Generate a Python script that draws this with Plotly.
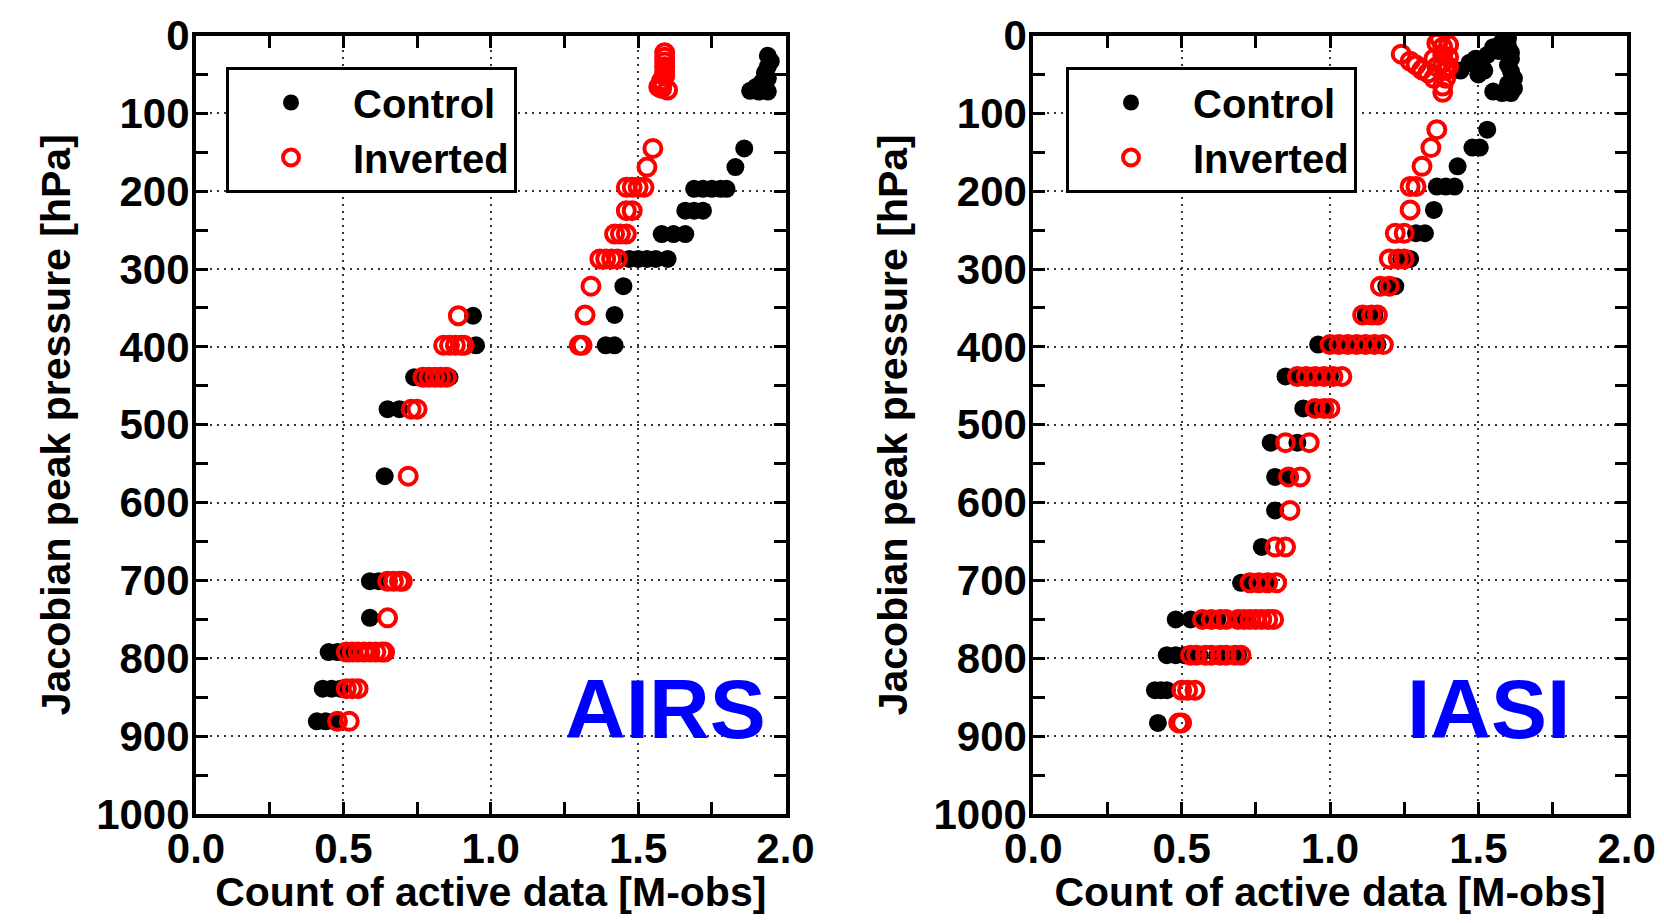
import plotly.graph_objects as go

# ---------------- data (M-obs, hPa) ----------------
airs_ctrl_count = [1.94, 1.95, 1.94, 1.93, 1.94, 1.92, 1.90, 1.88, 1.94, 1.91,
                   1.86, 1.83,
                   1.69, 1.72, 1.75, 1.78, 1.80,
                   1.66, 1.69, 1.72,
                   1.58, 1.62, 1.66,
                   1.47, 1.50, 1.53, 1.56, 1.60,
                   1.45, 1.42,
                   1.39, 1.42,
                   0.94, 0.95,
                   0.74, 0.78, 0.80, 0.83, 0.86,
                   0.65, 0.69,
                   0.64,
                   0.59, 0.62,
                   0.59,
                   0.45, 0.48, 0.50, 0.53,
                   0.43, 0.46, 0.49,
                   0.41, 0.44, 0.47]
airs_ctrl_pres = [26, 33, 40, 48, 55, 60, 66, 71, 72, 72,
                  145, 169,
                  197, 197, 197, 197, 197,
                  225, 225, 225,
                  255, 255, 255,
                  287, 287, 287, 287, 287,
                  322, 359,
                  398, 398,
                  360, 398,
                  439, 439, 439, 439, 439,
                  480, 480,
                  566,
                  701, 701,
                  748,
                  792, 792, 792, 792,
                  839, 839, 839,
                  881, 881, 881]

airs_inv_count = [1.59, 1.59, 1.59, 1.59, 1.59, 1.59, 1.58, 1.58, 1.58, 1.57, 1.60,
                  1.55, 1.53,
                  1.46, 1.48, 1.50, 1.52,
                  1.46, 1.48,
                  1.42, 1.44, 1.46,
                  1.37, 1.39, 1.41, 1.43,
                  1.34, 1.32,
                  1.30, 1.31,
                  0.89,
                  0.84, 0.86, 0.88, 0.90, 0.91,
                  0.77, 0.79, 0.81, 0.83, 0.85,
                  0.73, 0.75,
                  0.72,
                  0.65, 0.67, 0.69, 0.70,
                  0.65,
                  0.51, 0.53, 0.55, 0.57, 0.59, 0.61, 0.63, 0.64,
                  0.51, 0.53, 0.55,
                  0.48, 0.52]
airs_inv_pres = [22, 28, 34, 40, 46, 52, 58, 63, 68, 66, 70,
                 145, 169,
                 195, 195, 195, 195,
                 225, 225,
                 255, 255, 255,
                 287, 287, 287, 287,
                 322, 359,
                 398, 398,
                 360,
                 398, 398, 398, 398, 398,
                 439, 439, 439, 439, 439,
                 480, 480,
                 566,
                 701, 701, 701, 701,
                 748,
                 792, 792, 792, 792, 792, 792, 792, 792,
                 839, 839, 839,
                 881, 881]

iasi_ctrl_count = [1.44, 1.47, 1.49, 1.51, 1.53, 1.52, 1.55, 1.57, 1.58, 1.60, 1.60,
                   1.61, 1.61, 1.60, 1.61, 1.62, 1.60, 1.62, 1.55, 1.58, 1.61, 1.50,
                   1.53, 1.48, 1.505, 1.43,
                   1.36, 1.39, 1.42,
                   1.35,
                   1.29, 1.32,
                   1.24, 1.27,
                   1.19, 1.22,
                   1.12, 1.15,
                   0.96, 1.01, 1.06, 1.11, 1.16,
                   0.85, 0.90, 0.95, 1.00,
                   0.91, 0.95, 0.98,
                   0.80, 0.89,
                   0.815, 0.865,
                   0.815,
                   0.77,
                   0.70, 0.74, 0.79,
                   0.48, 0.53, 0.57, 0.62, 0.69, 0.72,
                   0.45, 0.48, 0.51, 0.56, 0.62, 0.69,
                   0.41, 0.43, 0.45,
                   0.42]
iasi_ctrl_pres = [45, 35, 30, 38, 25, 45, 15, 20, 8, 4, 14,
                  22, 30, 38, 46, 55, 62, 68, 72, 74, 74, 50,
                  121, 144, 144, 168,
                  194, 194, 194,
                  224,
                  254, 254,
                  287, 287,
                  322, 322,
                  359, 359,
                  397, 397, 397, 397, 397,
                  438, 438, 438, 438,
                  479, 479, 479,
                  523, 523,
                  567, 567,
                  610,
                  657,
                  703, 703, 703,
                  750, 750, 750, 750, 750, 750,
                  796, 796, 796, 796, 796, 796,
                  841, 841, 841,
                  883]

iasi_inv_count = [1.24, 1.27, 1.29, 1.31, 1.33, 1.35, 1.36, 1.37, 1.38, 1.38,
                  1.38, 1.39, 1.39, 1.38, 1.38, 1.40, 1.40, 1.40, 1.36, 1.35,
                  1.36, 1.34, 1.31,
                  1.27, 1.29,
                  1.27,
                  1.22, 1.25,
                  1.20, 1.23, 1.25,
                  1.17, 1.20,
                  1.11, 1.14, 1.16,
                  1.00, 1.03, 1.06, 1.09, 1.12, 1.15, 1.18,
                  0.89, 0.92, 0.95, 0.98, 1.01, 1.04,
                  0.95, 0.98, 1.00,
                  0.85, 0.93,
                  0.86, 0.90,
                  0.865,
                  0.815, 0.85,
                  0.73, 0.76, 0.79, 0.82,
                  0.57, 0.60, 0.63, 0.65, 0.69, 0.71, 0.73, 0.75, 0.77, 0.79, 0.81,
                  0.53, 0.55, 0.58, 0.60, 0.63, 0.65, 0.68, 0.70,
                  0.50, 0.52, 0.545,
                  0.49, 0.50]
iasi_inv_pres = [24, 33, 38, 44, 48, 30, 10, 4, 15, 25,
                 35, 45, 55, 65, 73, 12, 28, 40, 40, 55,
                 121, 144, 168,
                 194, 194,
                 224,
                 254, 254,
                 287, 287, 287,
                 322, 322,
                 359, 359, 359,
                 397, 397, 397, 397, 397, 397, 397,
                 438, 438, 438, 438, 438, 438,
                 479, 479, 479,
                 523, 523,
                 567, 567,
                 610,
                 657, 657,
                 703, 703, 703, 703,
                 750, 750, 750, 750, 750, 750, 750, 750, 750, 750, 750,
                 796, 796, 796, 796, 796, 796, 796, 796,
                 841, 841, 841,
                 883, 883]

series_names = ["Control", "Inverted"]
panel_labels = ["AIRS", "IASI"]
x_tickvals = [0.0, 0.5, 1.0, 1.5, 2.0]
x_ticktext = ["0.0", "0.5", "1.0", "1.5", "2.0"]
y_tickvals = [0, 100, 200, 300, 400, 500, 600, 700, 800, 900, 1000]
y_ticktext = ["0", "100", "200", "300", "400", "500", "600", "700", "800", "900", "1000"]
x_title = "Count of active data [M-obs]"
y_title = "Jacobian peak pressure [hPa]"

# ---------------- figure ----------------
FONT = "Liberation Sans, Arial, Helvetica, sans-serif"
OFF = 8                       # page body margin of the html page
W, H = 1664 - 2 * OFF, 923 - 2 * OFF

def px_x(p):                  # window pixel -> paper fraction
    return (p - OFF) / W

def px_y(p):
    return 1 - (p - OFF) / H

fig = go.Figure()

panels = [
    (airs_ctrl_count, airs_ctrl_pres, airs_inv_count, airs_inv_pres, "x", "y", "legend"),
    (iasi_ctrl_count, iasi_ctrl_pres, iasi_inv_count, iasi_inv_pres, "x2", "y2", "legend2"),
]
for cx, cp, ix, ip, xa, ya, lg in panels:
    fig.add_trace(go.Scatter(
        x=cx, y=cp, mode="markers", name=series_names[0], xaxis=xa, yaxis=ya, legend=lg,
        marker=dict(symbol="circle", size=18, color="black", line=dict(width=0)),
    ))
    fig.add_trace(go.Scatter(
        x=ix, y=ip, mode="markers", name=series_names[1], xaxis=xa, yaxis=ya, legend=lg,
        marker=dict(symbol="circle-open", size=17, color="#ff0000", line=dict(width=4, color="#ff0000")),
    ))

tickfont = dict(family=FONT, size=42, color="black", weight="bold")
titlefont = dict(family=FONT, size=41, color="black", weight="bold")

def xaxis_cfg(domain, anchor):
    return dict(
        domain=domain, anchor=anchor, range=[0, 2], automargin=False,
        tickvals=x_tickvals, ticktext=x_ticktext, ticklabelstandoff=-5,
        ticks="inside", ticklen=12, tickwidth=3, tickcolor="black",
        minor=dict(tickvals=[0.25, 0.75, 1.25, 1.75], ticks="inside", ticklen=12,
                   tickwidth=3, tickcolor="black", showgrid=False),
        showline=True, linewidth=4, linecolor="black", mirror="ticks",
        showgrid=True, gridcolor="#333333", gridwidth=2, griddash="2px,5px",
        zeroline=False, tickfont=tickfont,
        title=dict(text=x_title, font=titlefont, standoff=21),
    )

def yaxis_cfg(domain, anchor):
    return dict(
        domain=domain, anchor=anchor, range=[1000, 0], automargin=False,
        tickvals=y_tickvals, ticktext=y_ticktext, ticklabelstandoff=-6,
        ticks="inside", ticklen=12, tickwidth=3, tickcolor="black",
        minor=dict(dtick=50, tick0=0, ticks="inside", ticklen=12,
                   tickwidth=3, tickcolor="black", showgrid=False),
        showline=True, linewidth=4, linecolor="black", mirror="ticks",
        showgrid=True, gridcolor="#333333", gridwidth=2, griddash="2px,5px",
        zeroline=False, tickfont=tickfont,
        title=dict(text=y_title, font=titlefont, standoff=14),
    )

ydom = [px_y(814), px_y(35.5)]
legend_common = dict(
    xanchor="left", yanchor="top",
    bordercolor="black", borderwidth=3, bgcolor="white",
    font=dict(family=FONT, size=40, color="black", weight="bold"),
    itemwidth=114, tracegroupgap=0,
)
fig.update_layout(
    width=W, height=H,
    margin=dict(l=0, r=0, t=0, b=0),
    paper_bgcolor="white", plot_bgcolor="white",
    xaxis=xaxis_cfg([px_x(196), px_x(785.5)], "y"),
    yaxis=yaxis_cfg(ydom, "x"),
    xaxis2=xaxis_cfg([px_x(1033.3), px_x(1626.7)], "y2"),
    yaxis2=yaxis_cfg(ydom, "x2"),
    legend=dict(x=px_x(226), y=px_y(67), **legend_common),
    legend2=dict(x=px_x(1066), y=px_y(67), **legend_common),
    showlegend=True,
)

fig.add_annotation(text=panel_labels[0], xref="x domain", yref="y domain",
                   x=0.970, y=0.135, xanchor="right", yanchor="middle", showarrow=False,
                   font=dict(family=FONT, size=84, color="#0000ff", weight="bold"))
fig.add_annotation(text=panel_labels[1], xref="x2 domain", yref="y2 domain",
                   x=0.908, y=0.135, xanchor="right", yanchor="middle", showarrow=False,
                   font=dict(family=FONT, size=84, color="#0000ff", weight="bold"))

fig.write_html("out.html")
